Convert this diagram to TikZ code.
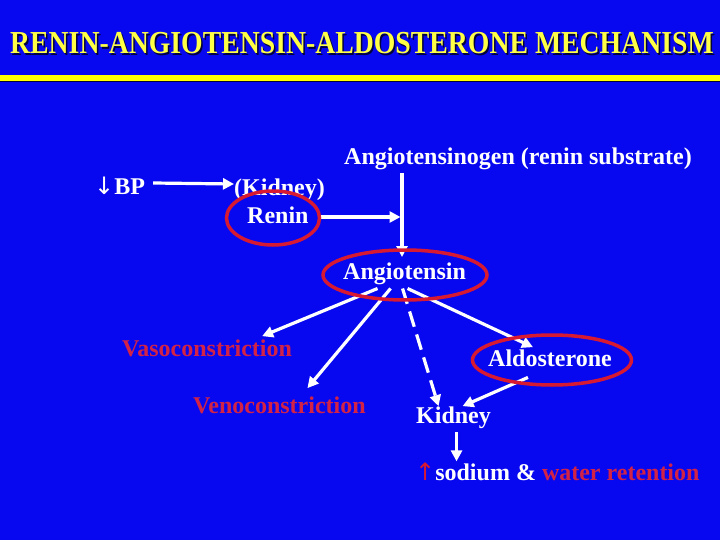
\documentclass[tikz,border=0pt]{standalone}
\usepackage{fontspec}
\usepackage{graphicx}
\setmainfont{Liberation Serif}
\newfontfamily\arrowfont{DejaVu Sans}
\usetikzlibrary{arrows.meta,shapes.geometric,calc}
\definecolor{bg}{RGB}{8,8,240}
\definecolor{ttl}{RGB}{255,255,70}
\definecolor{yl}{RGB}{255,255,0}
\definecolor{rd}{RGB}{215,25,50}
\definecolor{tred}{RGB}{210,35,70}
\begin{document}
\begin{tikzpicture}[x=1pt,y=-1pt,
  txt/.style={font=\bfseries\fontsize{24}{28}\selectfont, text=white, inner sep=2pt, anchor=base west},
  redtxt/.style={txt, text=tred},
  ring/.style={ellipse, draw=rd, line width=3.5pt, inner sep=0pt},
  arr/.style={draw=white, line width=3.2pt, -{Triangle[length=11pt,width=11pt]}},
  ttlstyle/.style={font=\bfseries\fontsize{32}{36}\selectfont, anchor=base, inner sep=0pt}
]
\fill[bg] (0,0) rectangle (720,540);
\useasboundingbox (0,0) rectangle (720,540);

% title
\node[ttlstyle, text=black!75!bg] (tshadow) at (363.5,55.5) {\scalebox{0.867}[1]{RENIN-ANGIOTENSIN-ALDOSTERONE MECHANISM}};
\node[ttlstyle, text=ttl] (title) at (362,54) {\scalebox{0.867}[1]{RENIN-ANGIOTENSIN-ALDOSTERONE MECHANISM}};
\fill[black!75!bg] (0,76.5) rectangle (720,82.5);
\fill[yl] (0,75) rectangle (720,81);

% texts
\node[txt] (agn) at (342,165) {Angiotensinogen (renin substrate)};
\node[txt] (bp) at (92,195) {{\arrowfont\mdseries ↓}BP};
\node[txt] (kid1) at (232,196) {(Kidney)};
\node[txt] (ren) at (245,223) {Renin};
\node[txt] (ang) at (341,279) {Angiotensin};
\node[txt] (ald) at (486,366) {Aldosterone};
\node[redtxt] (vaso) at (120,356) {Vasoconstriction};
\node[redtxt] (veno) at (191,413) {Venoconstriction};
\node[txt] (kid) at (414,423) {Kidney};
\node[txt] (sod) at (413,480) {\textcolor{rd}{\arrowfont\mdseries ↑}sodium \& \textcolor{tred}{water retention}};

% connectors
\coordinate (vtop) at (402,173);
\coordinate (vj) at (402,217);
\coordinate (vbot) at (402,257);
\draw[arr] ($(bp.base east)+(6,-12)$) -- ($(kid1.base west)+(2,-12)$);
\draw[white, line width=3.2pt] (vtop) -- (vj);
\draw[arr] (vj) -- (vbot);
\draw[arr, shorten >=1.5pt] (273,217) ++(46,0) -- (vj);

\draw[arr] ($(ang.south)+(-27,2)$) -- ($(vaso.north)+(55,-1)$);
\draw[arr] ($(ang.south)+(-14,2)$) -- ($(veno.north)+(28,-6)$);
\draw[arr, dash pattern=on 16pt off 8pt] ($(ang.south)+(-2,2)$) -- ($(kid.north)+(-15,2)$);
\draw[arr] ($(ang.south)+(3,2)$) -- ($(ald.north)+(-17,0)$);
\draw[arr] ($(ald.south)+(-22,9)$) -- ($(kid.north)+(9,2)$);
\draw[arr] ($(kid.south)+(3,2)$) -- ($(kid.south)+(3,31)$);

% rings
\node[ring, minimum width=93pt, minimum height=54pt] (renE) at (273,218) {};
\node[ring, minimum width=164pt, minimum height=50pt] (angE) at (405,275) {};
\node[ring, minimum width=159pt, minimum height=50pt] (aldE) at (552,360) {};
\end{tikzpicture}
\end{document}
